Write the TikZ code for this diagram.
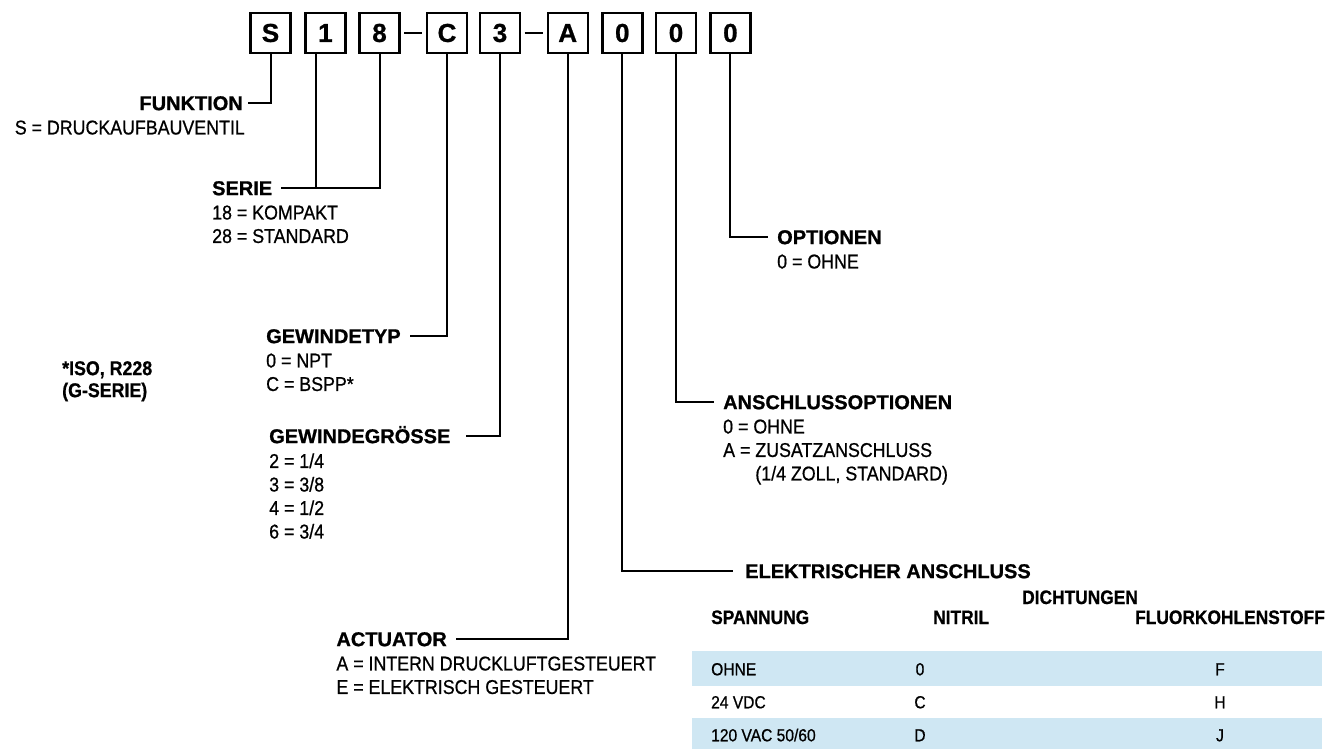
\documentclass[tikz,border=0pt]{standalone}
\usepackage{fontspec}
\setmainfont{Liberation Sans}[FakeBold=0.9]
\newfontfamily\narrowfont{Liberation Sans}[FakeStretch=0.89, FakeBold=0.7]
\definecolor{rowblue}{RGB}{207,231,243}
\begin{document}
\begin{tikzpicture}[x=1pt, y=-1pt,
    codebox/.style={draw, line width=2.4pt, minimum size=40pt, inner sep=0pt, font=\bfseries\fontsize{26}{26}\selectfont},
    title/.style={inner sep=0pt, text height=14.3pt, text depth=0pt, font=\bfseries\fontsize{20}{24}\selectfont},
    desc/.style={inner sep=0pt, align=left, font=\narrowfont\fontsize{20}{23.5}\selectfont},
    conn/.style={line width=2pt, shorten >=9pt},
    thead/.style={inner sep=0pt, text height=14pt, text depth=0pt, font=\narrowfont\bfseries\fontsize{19.5}{20}\selectfont},
    tcell/.style={inner sep=0pt, text height=12.6pt, text depth=0pt, font=\narrowfont\fontsize{17.5}{18}\selectfont}]
    \useasboundingbox (0,0) rectangle (1338,749);
    % 型番の枠
    \node[codebox] (bS) at (270.5,33) {S};
    \node[codebox] (b1) at (325.4,33) {1};
    \node[codebox] (b8) at (379.5,33) {8};
    \node[codebox] (bC) at (447,33) {C};
    \node[codebox] (b3) at (500,33) {3};
    \node[codebox] (bA) at (567.7,33) {A};
    \node[codebox] (b0a) at (622.3,33) {0};
    \node[codebox] (b0b) at (676,33) {0};
    \node[codebox] (b0c) at (730.4,33) {0};
    \draw[line width=2pt, shorten <=3.5pt, shorten >=3.5pt] (b8.east) -- (bC.west);
    \draw[line width=2pt, shorten <=3.5pt, shorten >=3.5pt] (b3.east) -- (bA.west);
    % 左側のラベル
    \node[title, anchor=east] (funktion) at (243,103) {FUNKTION};
    \node[desc, align=right, anchor=north east] (funktion-d) at ([xshift=2pt, yshift=-17.3pt]funktion.east) {S = DRUCKAUFBAUVENTIL};
    \node[title, anchor=west] (serie) at (212,188) {SERIE};
    \node[desc, anchor=north west] (serie-d) at ([yshift=-17.3pt]serie.west) {18 = KOMPAKT\\28 = STANDARD};
    \node[title, anchor=west] (gewindetyp) at (266,336) {GEWINDETYP};
    \node[desc, anchor=north west] (gewindetyp-d) at ([yshift=-17.3pt]gewindetyp.west) {0 = NPT\\C = BSPP*};
    \node[desc, font=\narrowfont\bfseries\fontsize{20}{22}\selectfont, anchor=north west] (iso) at (62,361) {*ISO, R228\\(G-SERIE)};
    \node[title, anchor=west] (groesse) at (269,436) {GEWINDEGRÖSSE};
    \node[desc, anchor=north west] (groesse-d) at ([yshift=-17.3pt]groesse.west) {2 = 1/4\\3 = 3/8\\4 = 1/2\\6 = 3/4};
    \node[title, anchor=east] (actuator) at (447,639) {ACTUATOR};
    \node[desc, anchor=north west] (actuator-d) at ([yshift=-17.3pt]actuator.west) {A = INTERN DRUCKLUFTGESTEUERT\\E = ELEKTRISCH GESTEUERT};
    % 右側のラベル
    \node[title, anchor=west] (optionen) at (777,237) {OPTIONEN};
    \node[desc, anchor=north west] (optionen-d) at ([yshift=-17.3pt]optionen.west) {0 = OHNE};
    \node[title, anchor=west] (anschluss) at (723,402) {ANSCHLUSSOPTIONEN};
    \node[desc, anchor=north west] (anschluss-d) at ([yshift=-17.3pt]anschluss.west) {0 = OHNE\\A = ZUSATZANSCHLUSS\\\phantom{A =\ }(1/4 ZOLL, STANDARD)};
    \node[title, anchor=west] (elektr) at (745,571) {ELEKTRISCHER ANSCHLUSS};
    % 枠からラベルへの線
    \draw[conn, shorten >=5pt] (bS.south) |- (funktion.east);
    \draw[conn] ([xshift=-9pt]b1.south) |- (serie.east);
    \draw[conn] (b8.south) |- (serie.east);
    \draw[conn] (bC.south) |- (gewindetyp.east);
    \draw[conn, shorten >=15pt] (b3.south) |- (groesse.east);
    \draw[conn] (bA.south) |- (actuator.east);
    \draw[conn, shorten >=12pt] (b0a.south) |- (elektr.west);
    \draw[conn] (b0b.south) |- (anschluss.west);
    \draw[conn] (b0c.south) |- (optionen.west);
    % 表
    \fill[rowblue] (692,651) rectangle (1322,686);
    \fill[rowblue] (692,718) rectangle (1322,749);
    \node[thead, anchor=west] (dicht) at (1022,597) {DICHTUNGEN};
    \node[thead, anchor=west] (spannung) at (711,617) {SPANNUNG};
    \node[thead, anchor=west] (nitril) at (933,617) {NITRIL};
    \node[thead, anchor=east] (fluor) at (1325,617) {FLUORKOHLENSTOFF};
    \node[tcell, anchor=west] (sp1) at (711,669) {OHNE};
    \node[tcell] (ni1) at (920,669) {0};
    \node[tcell] (fl1) at (1220,669) {F};
    \node[tcell, anchor=west] (sp2) at (711,702) {24 VDC};
    \node[tcell] (ni2) at (920,702) {C};
    \node[tcell] (fl2) at (1220,702) {H};
    \node[tcell, anchor=west] (sp3) at (711,735) {120 VAC 50/60};
    \node[tcell] (ni3) at (920,735) {D};
    \node[tcell] (fl3) at (1220,735) {J};
  \end{tikzpicture}
\end{document}
